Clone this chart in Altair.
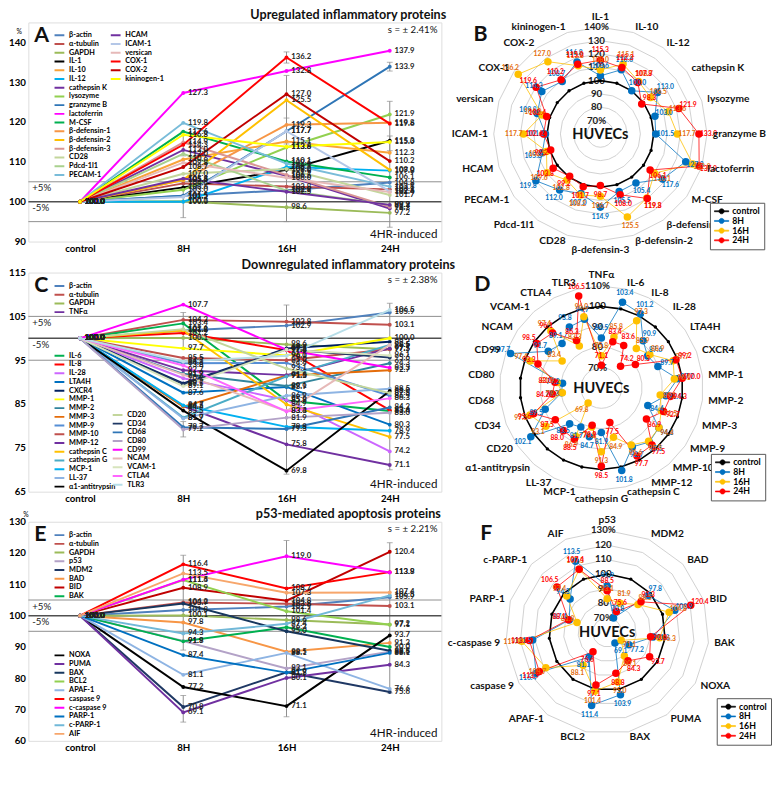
import altair as alt
import pandas as pd

FONT = "Lato"
TIMES = ["control", "8H", "16H", "24H"]

# ---------------- Panel A / B ----------------
A_REF = ["β-actin", "α-tubulin", "GAPDH"]
A_REF_8H = [101.5, 104.6, 100.1]
A_REF_16H = [102.9, 103.8, 98.6]
A_REF_24H = [104.8, 103.1, 97.2]
A_REF_COL = ["#4F81BD", "#C0504D", "#9BBB59"]

B_CATS = ["IL-1", "IL-10", "IL-12", "cathepsin K", "lysozyme", "granzyme B", "lactoferrin",
          "M-CSF", "β-defensin-1", "β-defensin-2", "β-defensin-3", "CD28", "Pdcd-1l1",
          "PECAM-1", "HCAM", "ICAM-1", "versican", "COX-1", "COX-2", "kininogen-1"]
B_8H = [103.6, 110.6, 100.0, 113.0, 103.0, 101.5, 127.3, 117.6, 105.4, 105.5,
        114.9, 107.0, 112.0, 119.8, 105.8, 101.2, 109.8, 114.3, 108.7, 116.8]
B_16H = [108.0, 115.1, 108.7, 106.5, 113.6, 117.7, 132.8, 110.1, 119.3, 125.5,
         106.7, 108.2, 102.8, 109.6, 102.5, 117.7, 106.0, 136.2, 127.0, 113.8]
B_24H = [115.3, 112.3, 107.8, 98.3, 121.9, 133.9, 137.9, 106.1, 119.8, 108.0,
         98.7, 101.7, 99.2, 103.8, 99.2, 102.6, 102.4, 119.6, 110.2, 115.0]
B_COL = ["#000000", "#F9A33A", "#00B0F0", "#7030A0", "#92D050", "#2E75B6", "#FF00FF",
         "#00B050", "#F79646", "#FFC000", "#D99694", "#C3D69B", "#A9D18E", "#79BCD9",
         "#7030A0", "#B4C7E7", "#E6B9B8", "#FF0000", "#C00000", "#FFFF00"]
A_ERR_T = ["8H", "8H", "16H", "16H", "16H", "24H", "24H", "24H"]
A_ERR_LO = [96.0, 111.5, 95.0, 114.5, 134.8, 112.8, 132.8, 93.6]
A_ERR_HI = [104.5, 117.5, 131.7, 121.0, 137.6, 116.5, 135.0, 125.2]

# ---------------- Panel C / D ----------------
C_REF_8H = [101.8, 104.2, 100.1]
C_REF_16H = [102.9, 103.8, 98.6]
C_REF_24H = [105.9, 103.1, 97.5]
D_CATS = ["TNFα", "IL-6", "IL-8", "IL-28", "LTA4H", "CXCR4", "MMP-1", "MMP-2", "MMP-3",
          "MMP-9", "MMP-10", "MMP-12", "cathepsin C", "cathepsin G", "MCP-1", "LL-37",
          "α1-antitrypsin", "CD20", "CD34", "CD68", "CD80", "CD99", "NCAM", "VCAM-1",
          "CTLA4", "TLR3"]
D_8H = [84.5, 103.4, 101.2, 90.9, 87.6, 89.7, 97.7, 91.9, 84.4, 94.3, 95.5, 92.7, 101.8,
        81.9, 84.7, 81.7, 83.5, 102.1, 89.5, 79.7, 79.2, 107.7, 91.7, 89.1, 93.8, 94.7]
D_16H = [75.8, 85.8, 97.3, 85.9, 88.9, 97.7, 96.1, 89.1, 91.5, 94.4, 95.0, 91.6, 84.9,
         91.3, 79.8, 86.9, 69.8, 93.1, 97.5, 79.3, 81.9, 97.4, 83.4, 97.4, 83.3, 96.0]
D_24H = [71.1, 83.4, 83.6, 74.2, 80.3, 99.2, 100.0, 94.3, 92.7, 86.9, 97.5, 97.7, 77.5,
         98.5, 78.9, 88.5, 88.0, 87.5, 95.6, 84.2, 83.0, 93.3, 98.5, 96.1, 86.3, 106.5]
D_COL = ["#7030A0", "#00B050", "#FF0000", "#CC66FF", "#0070C0", "#002060", "#FFFF00",
         "#31859C", "#E46C0A", "#558ED5", "#C0504D", "#7030A0", "#FFC000", "#4BACC6",
         "#00B0F0", "#8EB4E3", "#000000", "#C3D69B", "#1F3864", "#2E75B6", "#B3A2C7",
         "#FF00FF", "#E6B9B8", "#D7E4BD", "#FF66FF", "#B7DEE8"]
C_ERR_T = ["8H", "8H", "16H", "24H"]
C_ERR_LO = [97.8, 77.5, 69.0, 70.0]
C_ERR_HI = [105.9, 81.0, 107.6, 108.0]

# ---------------- Panel E / F ----------------
E_REF_8H = [101.8, 104.2, 100.1]
E_REF_16H = [102.9, 103.8, 98.6]
E_REF_24H = [105.9, 103.1, 97.2]
F_CATS = ["p53", "MDM2", "BAD", "BID", "BAK", "NOXA", "PUMA", "BAX", "BCL2", "APAF-1",
          "caspase 9", "c-caspase 9", "PARP-1", "c-PARP-1", "AIF"]
F_8H = [91.9, 70.8, 97.8, 108.9, 91.8, 77.2, 69.1, 103.9, 111.4, 81.1, 116.4, 111.5, 87.4, 94.3, 113.5]
F_16H = [83.1, 81.9, 88.5, 104.8, 96.3, 71.1, 80.1, 95.0, 101.4, 88.1, 108.7, 119.0, 81.8, 97.4, 107.3]
F_24H = [88.5, 75.6, 91.3, 120.4, 90.0, 93.7, 84.3, 88.8, 97.1, 76.6, 113.9, 113.8, 88.1, 106.5, 107.4]
F_COL = ["#B3A2C7", "#1F3864", "#F79646", "#C00000", "#00B050", "#000000", "#7030A0",
         "#17375E", "#92D050", "#8EB4E3", "#FF0000", "#FF00FF", "#0070C0", "#71B8D8", "#F7A66B"]
E_ERR_T = ["8H", "8H", "16H", "24H"]
E_ERR_LO = [89.0, 66.0, 67.7, 75.3]
E_ERR_HI = [119.3, 74.5, 124.0, 123.3]

RADAR_SERIES = ["control", "8H", "16H", "24H"]
RADAR_COL = ["#000000", "#0070C0", "#FFC000", "#FF0000"]
RADAR_TXT = ["#000000", "#0070C0", "#E46C0A", "#FF0000"]

W_LINE, H_LINE = 426, 226
W_RAD = 308


def annotation(text, x, y, **kw):
    return alt.Chart(pd.DataFrame({"t": [text]})).mark_text(font=FONT, **kw).encode(
        x=alt.value(x), y=alt.value(y), text="t:N")


def line_panel(ref8, ref16, ref24, names, v8, v16, v24, cols, groups, leg_pos,
               ydom, yticks, err_t, err_lo, err_hi, title, letter, s_text, pct_xy):
    all_names = A_REF + names
    color_map = dict(zip(all_names, A_REF_COL + cols))
    rows = []
    for n, a, b, c in zip(all_names, ref8 + v8, ref16 + v16, ref24 + v24):
        for t, v in zip(TIMES, [100.0, a, b, c]):
            rows.append({"series": n, "time": t, "value": v})
    df = pd.DataFrame(rows)

    xenc = alt.X("time:N", sort=TIMES,
                 scale=alt.Scale(domain=TIMES, type="point", padding=0.5),
                 axis=alt.Axis(title=None, labelFontSize=10, labelFontWeight="bold",
                               ticks=False, domain=False, labelPadding=2, labelAngle=0,
                               labelFont=FONT))
    if pct_xy:
        yaxis = alt.Axis(values=yticks, title="%", titleAngle=0, titleX=pct_xy[0],
                         titleY=pct_xy[1], titleFontSize=7, titleFontWeight="normal",
                         titleFont=FONT, labelFontSize=10, labelFontWeight="bold",
                         labelFont=FONT, ticks=False, domain=False, grid=False, labelPadding=3)
    else:
        yaxis = alt.Axis(values=yticks, title=None, labelFontSize=10, labelFontWeight="bold",
                         labelFont=FONT, ticks=False, domain=False, grid=False, labelPadding=3)
    yenc = alt.Y("value:Q", scale=alt.Scale(domain=ydom, nice=False, zero=False), axis=yaxis)

    rules_df = pd.DataFrame({"value": [95.0, 100.0, 105.0], "k": ["a", "b", "a"]})
    rules = alt.Chart(rules_df).mark_rule().encode(
        y=yenc,
        color=alt.condition("datum.k == 'b'", alt.value("#505050"), alt.value("#8c8c8c")),
        strokeWidth=alt.condition("datum.k == 'b'", alt.value(1.6), alt.value(1.0)))
    pm_df = pd.DataFrame({"value": [105.0, 100.0], "t": ["+5%", "-5%"]})
    pm = alt.Chart(pm_df).mark_text(align="left", baseline="top", dy=2,
                                    fontSize=10, font=FONT, color="#222").encode(
        x=alt.value(4), y=yenc, text="t:N")

    edf = pd.DataFrame({"time": err_t, "value": err_lo, "hi": err_hi})
    ebar = alt.Chart(edf).mark_rule(color="#8c8c8c", strokeWidth=1).encode(
        x=xenc, y=yenc, y2=alt.Y2("hi:Q"))
    cap_df = pd.DataFrame({"time": err_t + err_t, "value": err_lo + err_hi})
    caps = alt.Chart(cap_df).mark_tick(color="#8c8c8c", size=6, thickness=1).encode(x=xenc, y=yenc)

    glayers = []
    for g, (lx, ly) in zip(groups, leg_pos):
        sub = df[df.series.isin(g)]
        col = alt.Color("series:N",
                        scale=alt.Scale(domain=g, range=[color_map[n] for n in g]),
                        legend=alt.Legend(orient="none", legendX=lx, legendY=ly, title=None,
                                          symbolType="M-1.6,0L1.6,0", symbolStrokeWidth=2,
                                          symbolSize=49, labelFontSize=7.5, clipHeight=7.6,
                                          labelFontWeight="bold", labelFont=FONT,
                                          rowPadding=0, padding=0, labelOffset=6,
                                          labelLimit=200))
        glayers.append(alt.Chart(sub).mark_line(
            strokeWidth=2, point=alt.OverlayMarkDef(filled=True, size=16)).encode(
            x=xenc, y=yenc, color=col))

    labels = alt.Chart(df).mark_text(align="left", dx=5, fontSize=8, fontWeight="bold",
                                     font=FONT, color="#222").encode(
        x=xenc, y=yenc, text=alt.Text("value:Q", format=".1f"))

    ttl = annotation(title, 330, -8, align="center", baseline="middle", fontSize=13,
                     fontWeight="bold", color="#111")
    lt = annotation(letter, 6, 13, align="left", baseline="middle", fontSize=22,
                    fontWeight="bold", color="#111")
    st = annotation(s_text, W_LINE - 4, 8, align="right", baseline="middle", fontSize=10,
                    color="#111")
    ind = annotation("4HR-induced", W_LINE - 4, H_LINE - 8, align="right",
                     baseline="middle", fontSize=12, color="#111")

    layer = alt.layer(ebar, caps, rules, pm, *glayers, labels, ttl, lt, st, ind).resolve_scale(
        color="independent").resolve_legend(color="independent")
    return layer.properties(width=W_LINE, height=H_LINE)


LEG_PATH = ("M-1,-0.07L1,-0.07L1,0.07L-1,0.07Z "
            "M0.36,0A0.36,0.36,0,1,1,-0.36,0A0.36,0.36,0,1,1,0.36,0Z")


def radar_panel(cats, v8, v16, v24, vmin, k, rings, ring_labels, letter, cy, leg_y, cx=145):
    N = len(cats)
    H = H_LINE
    xs = alt.Scale(domain=[-cx, W_RAD - cx], nice=False, zero=False)
    ys = alt.Scale(domain=[-(H - cy), cy], nice=False, zero=False)
    rmax = (rings[-1] - vmin) * k

    def polar(ch, extra=0.0, px="px", py="py"):
        return (ch.transform_calculate(th=f"2*PI*datum.idx/{N}")
                .transform_calculate(rr=f"(datum.value-{vmin})*{k}+{extra}")
                .transform_calculate(**{px: "datum.rr*sin(datum.th)"})
                .transform_calculate(**{py: "datum.rr*cos(datum.th)"}))

    def X(f="px"):
        return alt.X(f"{f}:Q", scale=xs, axis=None)

    def Y(f="py"):
        return alt.Y(f"{f}:Q", scale=ys, axis=None)

    rrows = []
    for rv in rings:
        for i in range(N + 1):
            rrows.append({"ring": rv, "idx": i, "value": rv})
    ring_ch = polar(alt.Chart(pd.DataFrame(rrows))).mark_line(
        color="#c4c4c4", strokeWidth=0.8).encode(
        x=X(), y=Y(), order="idx:Q", detail="ring:N")
    rl_df = pd.DataFrame({"value": rings, "lab": ring_labels, "idx": [0] * len(rings)})
    ring_lab = polar(alt.Chart(rl_df)).mark_text(
        fontSize=10, fontWeight="bold", font=FONT, dx=-4, color="#222").encode(
        x=X(), y=Y(), text="lab:N")

    vals = {"control": [100.0] * N, "8H": v8, "16H": v16, "24H": v24}
    rows = []
    for s in RADAR_SERIES:
        for i in range(N + 1):
            rows.append({"series": s, "idx": i, "cat": cats[i % N], "value": vals[s][i % N]})
    df = pd.DataFrame(rows)
    col = alt.Color("series:N", scale=alt.Scale(domain=RADAR_SERIES, range=RADAR_COL),
                    legend=alt.Legend(orient="none", legendX=W_RAD - 50, legendY=leg_y,
                                      title=None,
                                      symbolType=LEG_PATH, symbolSize=220,
                                      symbolStrokeWidth=0.6, labelFontSize=9,
                                      labelFontWeight="bold", labelFont=FONT,
                                      strokeColor="#555", fillColor="white", padding=4,
                                      rowPadding=0, clipHeight=9.5, labelOffset=3))
    lines = polar(alt.Chart(df)).mark_line().encode(
        x=X(), y=Y(), order="idx:Q", color=col,
        strokeWidth=alt.condition("datum.series == 'control'", alt.value(1.6), alt.value(0.8)))
    dots = polar(alt.Chart(df)).transform_filter(f"datum.idx < {N}").mark_circle(opacity=1).encode(
        x=X(), y=Y(), color=col,
        size=alt.condition("datum.series == 'control'", alt.value(12), alt.value(60)))
    vlabels = polar(alt.Chart(df), extra=10.0, px="lx", py="ly").transform_filter(
        f"datum.idx < {N} && datum.series != 'control'").mark_text(
        fontSize=7, font=FONT, fontWeight="bold").encode(
        x=X("lx"), y=Y("ly"), text=alt.Text("value:Q", format=".1f"),
        fill=alt.Fill("series:N", scale=alt.Scale(domain=RADAR_SERIES, range=RADAR_TXT),
                      legend=None))

    cdf = pd.DataFrame({"cat": cats, "idx": list(range(N))})

    def cat_layer(cond, align, baseline, extra):
        return (alt.Chart(cdf)
                .transform_calculate(th=f"2*PI*datum.idx/{N}")
                .transform_calculate(s="sin(datum.th)", c="cos(datum.th)")
                .transform_filter(cond)
                .transform_calculate(lx=f"({rmax}+{extra})*datum.s", ly=f"({rmax}+{extra})*datum.c")
                .mark_text(align=align, baseline=baseline, fontSize=10.5, fontWeight="bold",
                           font=FONT, color="#111")
                .encode(x=X("lx"), y=Y("ly"), text="cat:N"))

    cat_top = cat_layer("abs(datum.s) < 0.2 && datum.c > 0", "center", "bottom", 6)
    cat_bot = cat_layer("abs(datum.s) < 0.2 && datum.c < 0", "center", "top", 5)
    cat_r = cat_layer("datum.s >= 0.2", "left", "middle", 6)
    cat_l = cat_layer("datum.s <= -0.2", "right", "middle", 6)

    center = alt.Chart(pd.DataFrame({"px": [0.0], "py": [0.0], "t": ["HUVECs"]})).mark_text(
        fontSize=15, fontWeight="bold", font=FONT, color="#111").encode(
        x=X(), y=Y(), text="t:N")
    lt = annotation(letter, 14, 12, align="left", baseline="middle", fontSize=22,
                    fontWeight="bold", color="#111")

    return alt.layer(ring_ch, ring_lab, lines, dots, vlabels, cat_top, cat_bot, cat_r, cat_l,
                     center, lt).properties(
        width=W_RAD, height=H, view=alt.ViewBackground(stroke="transparent"))


# ---------- build panels ----------
pA = line_panel(A_REF_8H, A_REF_16H, A_REF_24H, B_CATS, B_8H, B_16H, B_24H, B_COL,
                [A_REF + B_CATS[:14], B_CATS[14:]], [(27, 9.5), (85, 9.5)],
                [90, 145], [90, 100, 110, 120, 130, 140], A_ERR_T, A_ERR_LO, A_ERR_HI,
                "Upregulated inflammatory proteins", "A", "s = ± 2.41%", (-10, 12))
pB = radar_panel(B_CATS, B_8H, B_16H, B_24H, 60, 1.375,
                 [70, 80, 90, 100, 110, 120, 130, 140],
                 ["70%", "80", "90", "100", "110", "120", "130", "140%"], "B", 115, 186)

pC = line_panel(C_REF_8H, C_REF_16H, C_REF_24H, D_CATS, D_8H, D_16H, D_24H, D_COL,
                [A_REF + D_CATS[:1], D_CATS[1:17], D_CATS[17:]],
                [(27, 10), (27, 82), (87, 143)],
                [65, 115], [65, 75, 85, 95, 105, 115], C_ERR_T, C_ERR_LO, C_ERR_HI,
                "Downregulated inflammatory proteins", "C", "s = ± 2.38%", None)
pD = radar_panel(D_CATS, D_8H, D_16H, D_24H, 60, 2.1,
                 [70, 80, 90, 100, 110], ["70%", "80", "90", "100", "110%"], "D", 119, 187)

pE = line_panel(E_REF_8H, E_REF_16H, E_REF_24H, F_CATS, F_8H, F_16H, F_24H, F_COL,
                [A_REF + F_CATS[:5], F_CATS[5:]], [(27, 10), (27, 134)],
                [60, 130], [60, 70, 80, 90, 100, 110, 120, 130], E_ERR_T, E_ERR_LO, E_ERR_HI,
                "p53-mediated apoptosis proteins", "E", "s = ± 2.21%", (-3, -4))
pF = radar_panel(F_CATS, F_8H, F_16H, F_24H, 60, 1.5,
                 [70, 80, 90, 100, 110, 120, 130],
                 ["70%", "80", "90", "100", "110", "120", "130%"], "F", 114, 182)

rows = [alt.hconcat(a, b, spacing=4)
        .resolve_scale(color="independent", fill="independent")
        .resolve_legend(color="independent") for a, b in [(pA, pB), (pC, pD), (pE, pF)]]
chart = alt.vconcat(*rows, spacing=2).resolve_scale(
    color="independent", fill="independent").resolve_legend(color="independent").properties(
    padding={"top": -12, "left": 0, "right": 0, "bottom": 0}
).configure_view(stroke="#404040", strokeWidth=1.4).configure(font=FONT)

chart.save("out.html", embed_options={"renderer": "svg", "actions": False})
